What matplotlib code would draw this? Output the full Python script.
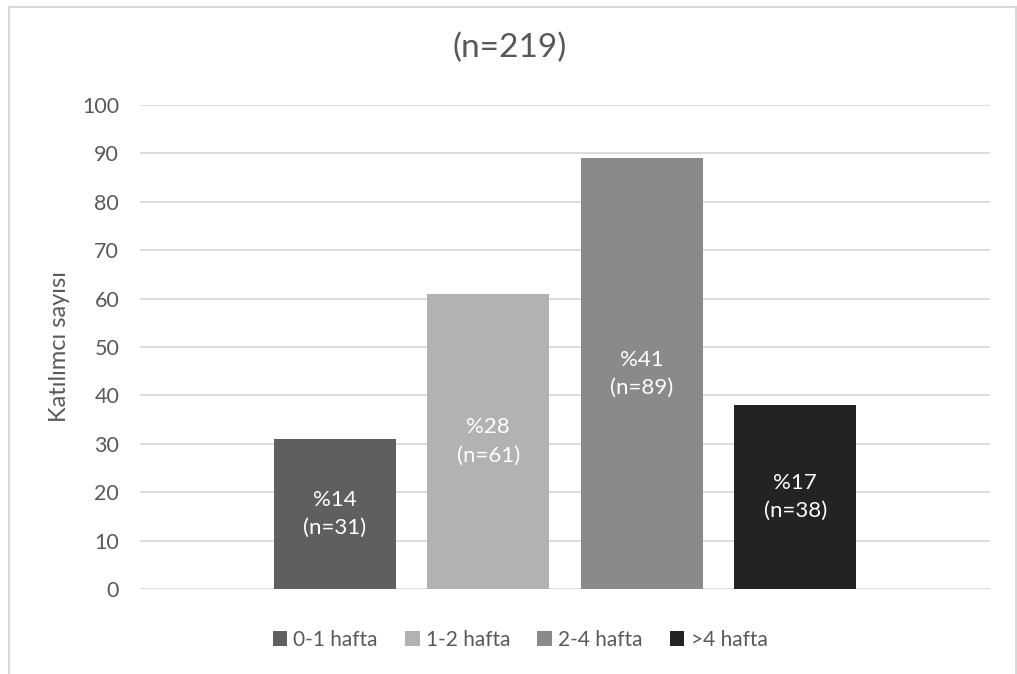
import matplotlib.pyplot as plt
from matplotlib.lines import Line2D

plt.rcParams['font.family'] = ['Lato', 'DejaVu Sans']

# participants per waiting period
categories = ["0-1 hafta", "1-2 hafta", "2-4 hafta", ">4 hafta"]
counts = [31, 61, 89, 38]
percents = [14, 28, 41, 17]
total_n = 219
colors = ["#5f5f5f", "#b2b2b2", "#8a8a8a", "#232323"]

W, H = 1017, 674
fig = plt.figure(figsize=(W / 100, H / 100), dpi=100)
ax = fig.add_axes([140 / W, 1 - 589 / H, 850 / W, 484 / H])

bar_w = 122 / 850
step = 153.5 / 850
offsets = [(i - 1.5) * step for i in range(len(counts))]

for off, c, p, col, lab in zip(offsets, counts, percents, colors, categories):
    ax.bar(off, c, width=bar_w, color=col, label=lab, zorder=3)
    ax.text(off, c / 2, f"%{p}\n(n={c})", ha="center", va="center",
            color="white", fontsize=16, linespacing=1.5, zorder=4)

ax.set_xlim(-0.5, 0.5)
ax.set_ylim(0, 100)
ax.set_yticks(range(0, 101, 10))
ax.set_xticks([])
ax.grid(axis="y", color="#d9d9d9", linewidth=1.3, zorder=0)
for s in ax.spines.values():
    s.set_visible(False)
ax.tick_params(axis="y", length=0, pad=15, labelsize=15.5, labelcolor="#595959")
ax.set_ylabel("Katılımcı sayısı", fontsize=17, color="#595959", labelpad=9)

fig.text(510 / W, 1 - 48 / H, f"(n={total_n})", ha="center", va="center",
         fontsize=24, color="#595959")

leg = fig.legend(loc="center", bbox_to_anchor=(520 / W, 1 - 640 / H), ncol=4,
                 frameon=False, fontsize=15, handlelength=0.7, handleheight=0.7,
                 handletextpad=0.3, columnspacing=1.3)
for t in leg.get_texts():
    t.set_color("#595959")

# light chart-area border
bx0, by0, bx1 = 8.5 / W, 1 - 6.5 / H, 1015.5 / W
for xs, ys in [([bx0, bx1], [by0, by0]), ([bx0, bx0], [by0, -0.1]), ([bx1, bx1], [by0, -0.1])]:
    fig.add_artist(Line2D(xs, ys, color="#d9d9d9", linewidth=1.5))

fig.savefig("out.png", dpi=100)
